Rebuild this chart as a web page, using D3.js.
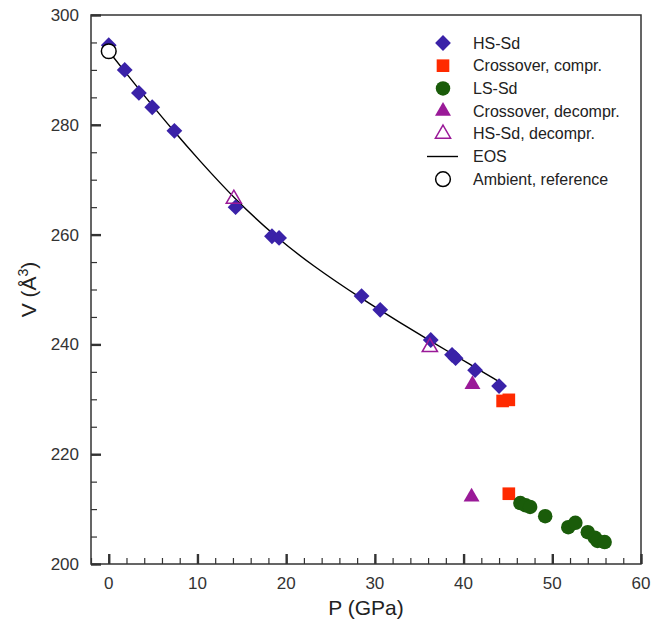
<!DOCTYPE html>
<html>
<head>
<meta charset="utf-8">
<script src="https://cdn.jsdelivr.net/npm/d3@7"></script>
<style>
  body { margin: 0; background: #fff; }
  svg { font-family: "Liberation Sans", Arial, sans-serif; }
</style>
</head>
<body>
<svg class="canvas" width="670" height="625"></svg>
<script>
// data: [P (GPa), V (A^3)]
var hsSd = [[0, 294.5], [1.8, 290.0], [3.4, 285.8], [4.9, 283.2], [7.4, 278.9],
            [14.3, 265.0], [18.4, 259.7], [19.2, 259.4], [28.5, 248.8], [30.6, 246.3],
            [36.3, 240.8], [38.7, 238.1], [39.1, 237.5], [41.3, 235.3], [44.0, 232.4]];
var crossCompr = [[44.4, 229.7], [45.1, 229.9], [45.1, 212.8]];
var lsSd = [[46.4, 211.1], [47.0, 210.7], [47.5, 210.4], [49.2, 208.7], [51.8, 206.7],
            [52.6, 207.5], [54.0, 205.8], [54.8, 204.8], [55.1, 204.2], [55.9, 204.0]];
var crossDecompr = [[41.0, 232.7], [40.9, 212.2]];
var hsDecompr = [[14.1, 266.5], [36.2, 239.5]];
var eos = [[0, 293.4], [2, 289.3], [4, 285.3], [7.4, 278.7], [10, 273.9], [14.3, 266.3],
           [18.8, 259.6], [23, 254.3], [28.5, 248.3], [33, 243.8], [36.3, 240.6],
           [39, 238.0], [41.3, 235.8], [43.8, 233.4]];
var ambient = [[0, 293.4]];

var xTicks = [0, 10, 20, 30, 40, 50, 60];
var yTicks = [200, 220, 240, 260, 280, 300];

var legendItems = [
  {label: "HS-Sd", kind: "diamond"},
  {label: "Crossover, compr.", kind: "square"},
  {label: "LS-Sd", kind: "circle"},
  {label: "Crossover, decompr.", kind: "tri"},
  {label: "HS-Sd, decompr.", kind: "triOpen"},
  {label: "EOS", kind: "line"},
  {label: "Ambient, reference", kind: "ambient"}
];

var svg = d3.select('.canvas');
var plotL = 91, plotR = 641, plotT = 15, plotB = 564;

var x = d3.scaleLinear().domain([-2, 60]).range([plotL, plotR]);
var y = d3.scaleLinear().domain([200, 300]).range([plotB, plotT]);

var axisColor = "#333";

// frame
svg.append("rect")
  .attr("x", plotL).attr("y", plotT)
  .attr("width", plotR - plotL).attr("height", plotB - plotT)
  .attr("fill", "none").attr("stroke", axisColor).attr("stroke-width", 1.5);

// inward ticks
var xAxis = d3.axisTop(x).tickValues(xTicks).tickSize(10).tickFormat("");
var xMinor = d3.axisTop(x).tickValues(d3.range(-2, 61, 2)).tickSize(6).tickFormat("");
var yAxis = d3.axisRight(y).tickValues(yTicks).tickSize(10).tickFormat("");
var yMinor = d3.axisRight(y).tickValues(d3.range(200, 301, 5)).tickSize(6).tickFormat("");

[xMinor, xAxis].forEach(function(a, i) {
  var g = svg.append("g").attr("transform", "translate(0," + plotB + ")").call(a);
  g.select(".domain").remove();
  g.selectAll("line").attr("stroke", axisColor).attr("stroke-width", i ? 2.4 : 1.2);
});
[yMinor, yAxis].forEach(function(a, i) {
  var g = svg.append("g").attr("transform", "translate(" + plotL + ",0)").call(a);
  g.select(".domain").remove();
  g.selectAll("line").attr("stroke", axisColor).attr("stroke-width", i ? 2.4 : 1.2);
});

// tick labels
svg.append("g").selectAll("text").data(xTicks).enter().append("text")
  .attr("x", function(d) { return x(d); })
  .attr("y", 589)
  .attr("text-anchor", "middle")
  .attr("font-size", 17).attr("fill", axisColor)
  .text(function(d) { return d; });

svg.append("g").selectAll("text").data(yTicks).enter().append("text")
  .attr("x", 79)
  .attr("y", function(d) { return y(d) + 6; })
  .attr("text-anchor", "end")
  .attr("font-size", 17).attr("fill", axisColor)
  .text(function(d) { return d; });

// axis titles
svg.append("text")
  .attr("x", (plotL + plotR) / 2).attr("y", 615)
  .attr("text-anchor", "middle").attr("font-size", 21).attr("fill", "#222")
  .text("P (GPa)");

var yt = svg.append("text")
  .attr("transform", "translate(36," + ((plotT + plotB) / 2) + ") rotate(-90)")
  .attr("text-anchor", "middle").attr("font-size", 21).attr("fill", "#222");
yt.append("tspan").text("V (Å");
yt.append("tspan").attr("font-size", 14).attr("dy", -8).text("3");
yt.append("tspan").attr("dy", 8).text(")");

// EOS line
var line = d3.line()
  .x(function(d) { return x(d[0]); })
  .y(function(d) { return y(d[1]); })
  .curve(d3.curveBasis);

svg.append("path")
  .datum(eos)
  .attr("d", line)
  .attr("fill", "none").attr("stroke", "#000").attr("stroke-width", 1.4);

var styles = {
  diamond: {sym: d3.symbolSquare, size: 125, rot: 45, fill: "#3a22a8", stroke: "none"},
  square: {sym: d3.symbolSquare, size: 160, rot: 0, fill: "#ff2a00", stroke: "none"},
  circle: {sym: d3.symbolCircle, size: 165, rot: 0, fill: "#1a5c0a", stroke: "none"},
  tri: {sym: d3.symbolTriangle, size: 110, rot: 0, fill: "#9a1a98", stroke: "none"},
  triOpen: {sym: d3.symbolTriangle, size: 100, rot: 0, fill: "none", stroke: "#9a1a98"},
  ambient: {sym: d3.symbolCircle, size: 170, rot: 0, fill: "#fff", stroke: "#000"}
};

function drawPoints(data, kind) {
  var s = styles[kind];
  svg.append("g").selectAll("path").data(data).enter().append("path")
    .attr("d", d3.symbol().type(s.sym).size(s.size))
    .attr("transform", function(d) {
      return "translate(" + x(d[0]) + "," + y(d[1]) + ") rotate(" + s.rot + ")";
    })
    .attr("fill", s.fill)
    .attr("stroke", s.stroke)
    .attr("stroke-width", 1.5);
}

drawPoints(hsSd, "diamond");
drawPoints(hsDecompr, "triOpen");
drawPoints(crossDecompr, "tri");
drawPoints(crossCompr, "square");
drawPoints(lsSd, "circle");
drawPoints(ambient, "ambient");

// legend
var leg = svg.append("g");
legendItems.forEach(function(item, i) {
  var ly = 43 + i * 22.7;
  if (item.kind === "line") {
    leg.append("line")
      .attr("x1", 427).attr("x2", 458).attr("y1", ly).attr("y2", ly)
      .attr("stroke", "#000").attr("stroke-width", 1.4);
  } else {
    var s = styles[item.kind];
    leg.append("path")
      .attr("d", d3.symbol().type(s.sym).size(s.size))
      .attr("transform", "translate(443," + ly + ") rotate(" + s.rot + ")")
      .attr("fill", s.fill).attr("stroke", s.stroke).attr("stroke-width", 1.5);
  }
  leg.append("text")
    .attr("x", 473).attr("y", ly + 5.5)
    .attr("font-size", 16).attr("fill", "#222")
    .text(item.label);
});
</script>
</body>
</html>
